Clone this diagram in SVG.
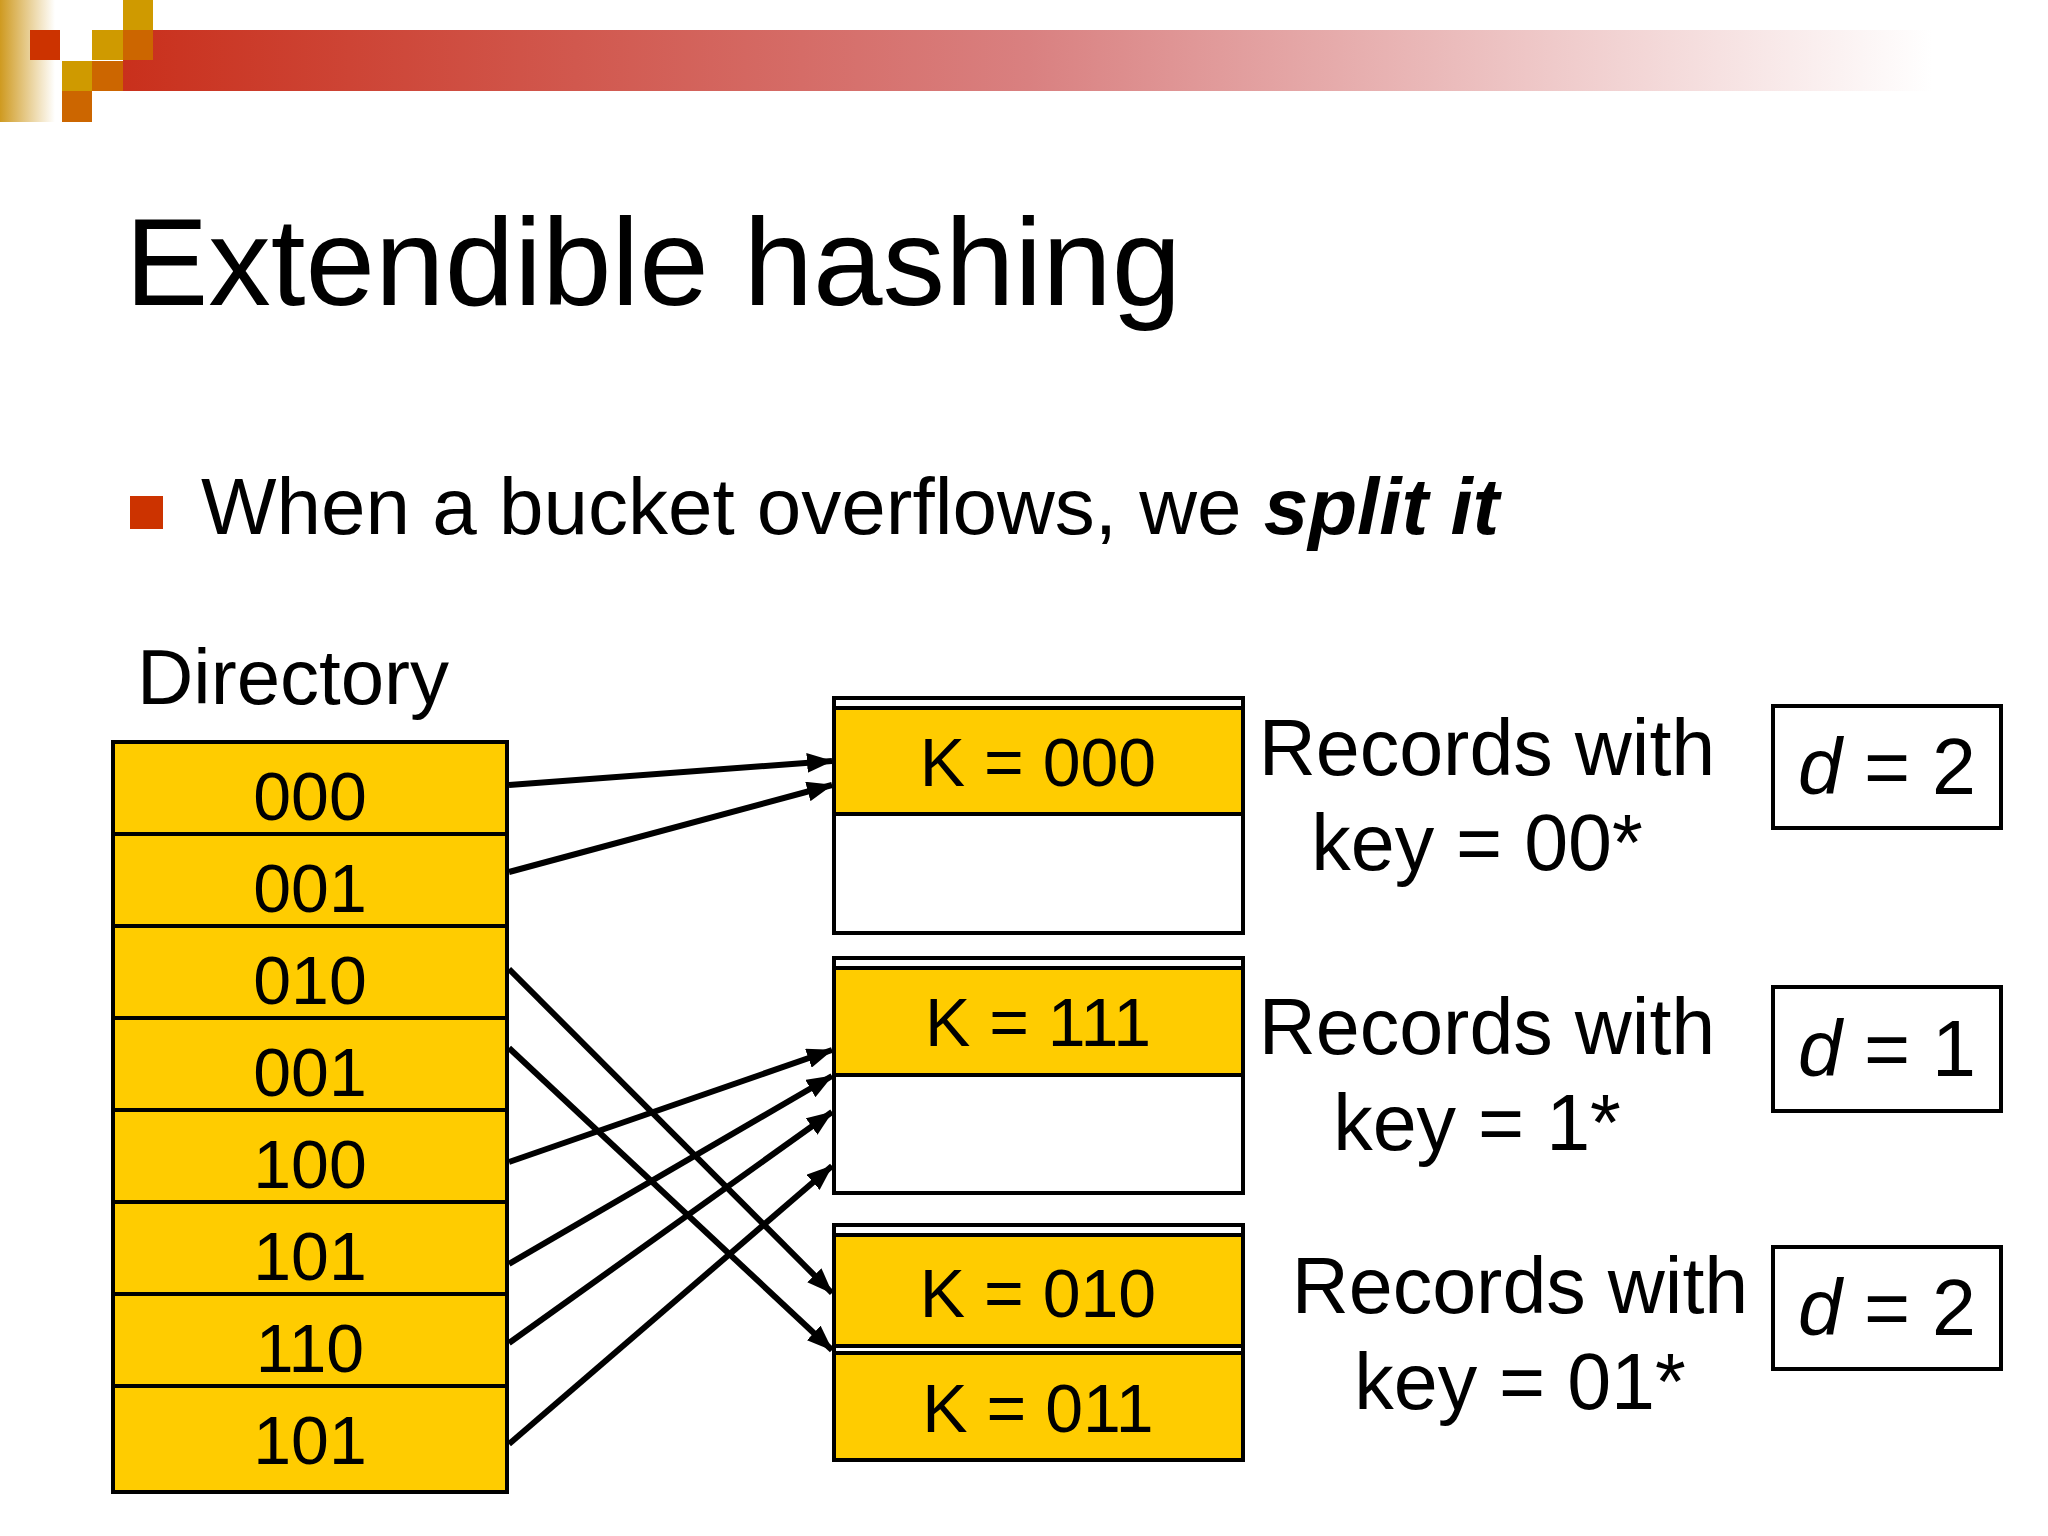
<svg xmlns="http://www.w3.org/2000/svg" width="2048" height="1536" viewBox="0 0 2048 1536">
<defs>
<linearGradient id="bar" x1="0" x2="1" y1="0" y2="0"><stop offset="0" stop-color="#c9301c"/><stop offset="0.5" stop-color="#d98080"/><stop offset="1" stop-color="#ffffff"/></linearGradient>
<linearGradient id="side" x1="0" x2="1" y1="0" y2="0"><stop offset="0" stop-color="#cf9a20"/><stop offset="1" stop-color="#ffffff"/></linearGradient>
<marker id="ah" markerWidth="26" markerHeight="20" refX="25" refY="10" orient="auto" markerUnits="userSpaceOnUse" viewBox="0 0 26 20"><path d="M0,0 L26,10 L0,20 Z" fill="#000"/></marker>
</defs>
<style>
text{font-family:"Liberation Sans",Arial,sans-serif;fill:#000}
.y{fill:#ffcc00;stroke:#000;stroke-width:4}
.w{fill:#fff;stroke:#000;stroke-width:4}
.dir{font-size:68px;text-anchor:middle}
.bk{font-size:68px;text-anchor:middle}
.lab{font-size:79px;text-anchor:middle}
</style>
<rect width="2048" height="1536" fill="#fff"/>
<g id="logo">
<rect x="0" y="0" width="55" height="122" fill="url(#side)"/>
<rect x="123" y="30" width="1810" height="61" fill="url(#bar)"/>
<rect x="123" y="0" width="30" height="30" fill="#cf9a00"/>
<rect x="30" y="30" width="30" height="30" fill="#cc3300"/>
<rect x="92" y="30" width="31" height="30" fill="#cf9a00"/>
<rect x="123" y="30" width="30" height="30" fill="#cc6600"/>
<rect x="62" y="61" width="30" height="30" fill="#cf9a00"/>
<rect x="92" y="61" width="31" height="30" fill="#cc6600"/>
<rect x="62" y="91" width="30" height="31" fill="#cc6600"/>
</g>
<text x="125" y="305" font-size="125">Extendible hashing</text>
<rect x="130" y="496" width="33" height="33" fill="#cc3300"/>
<text x="201" y="534" font-size="80">When a bucket overflows, we <tspan font-weight="bold" font-style="italic">split it</tspan></text>
<text x="137" y="704" font-size="78">Directory</text>
<g id="directory">
<rect class="y" x="113" y="742" width="394" height="92"/>
<rect class="y" x="113" y="834" width="394" height="92"/>
<rect class="y" x="113" y="926" width="394" height="92"/>
<rect class="y" x="113" y="1018" width="394" height="92"/>
<rect class="y" x="113" y="1110" width="394" height="92"/>
<rect class="y" x="113" y="1202" width="394" height="92"/>
<rect class="y" x="113" y="1294" width="394" height="92"/>
<rect class="y" x="113" y="1386" width="394" height="106"/>
<text class="dir" x="310" y="820">000</text>
<text class="dir" x="310" y="912">001</text>
<text class="dir" x="310" y="1004">010</text>
<text class="dir" x="310" y="1096">001</text>
<text class="dir" x="310" y="1188">100</text>
<text class="dir" x="310" y="1280">101</text>
<text class="dir" x="310" y="1372">110</text>
<text class="dir" x="310" y="1464">101</text>
</g>
<g id="bucket1">
<rect class="w" x="834" y="698" width="409" height="235"/>
<rect class="y" x="834" y="708" width="409" height="106"/>
<text class="bk" x="1038" y="786">K = 000</text>
</g>
<g id="bucket2">
<rect class="w" x="834" y="958" width="409" height="235"/>
<rect class="y" x="834" y="968" width="409" height="107"/>
<text class="bk" x="1038" y="1046">K = 111</text>
</g>
<g id="bucket3">
<rect class="w" x="834" y="1225" width="409" height="235"/>
<rect class="y" x="834" y="1235" width="409" height="111"/>
<rect class="y" x="834" y="1353" width="409" height="107"/>
<text class="bk" x="1038" y="1317">K = 010</text>
<text class="bk" x="1038" y="1432">K = 011</text>
</g>
<g id="labels">
<text class="lab" x="1487" y="775">Records with</text>
<text class="lab" x="1477" y="870">key = 00*</text>
<text class="lab" x="1487" y="1054">Records with</text>
<text class="lab" x="1477" y="1150">key = 1*</text>
<text class="lab" x="1520" y="1313">Records with</text>
<text class="lab" x="1520" y="1409">key = 01*</text>
</g>
<g id="depths">
<rect class="w" x="1773" y="706" width="228" height="122"/>
<rect class="w" x="1773" y="987" width="228" height="124"/>
<rect class="w" x="1773" y="1247" width="228" height="122"/>
<text class="lab" x="1887" y="794"><tspan font-style="italic">d</tspan> = 2</text>
<text class="lab" x="1887" y="1076"><tspan font-style="italic">d</tspan> = 1</text>
<text class="lab" x="1887" y="1335"><tspan font-style="italic">d</tspan> = 2</text>
</g>
<g id="connectors" stroke="#000" stroke-width="6">
<line x1="509" y1="785" x2="832" y2="761" marker-end="url(#ah)"/>
<line x1="509" y1="872" x2="832" y2="785" marker-end="url(#ah)"/>
<line x1="509" y1="969" x2="832" y2="1293" marker-end="url(#ah)"/>
<line x1="509" y1="1048" x2="832" y2="1350" marker-end="url(#ah)"/>
<line x1="509" y1="1162" x2="832" y2="1050" marker-end="url(#ah)"/>
<line x1="509" y1="1264" x2="832" y2="1076" marker-end="url(#ah)"/>
<line x1="509" y1="1343" x2="832" y2="1112" marker-end="url(#ah)"/>
<line x1="509" y1="1444" x2="832" y2="1166" marker-end="url(#ah)"/>
</g>
</svg>
